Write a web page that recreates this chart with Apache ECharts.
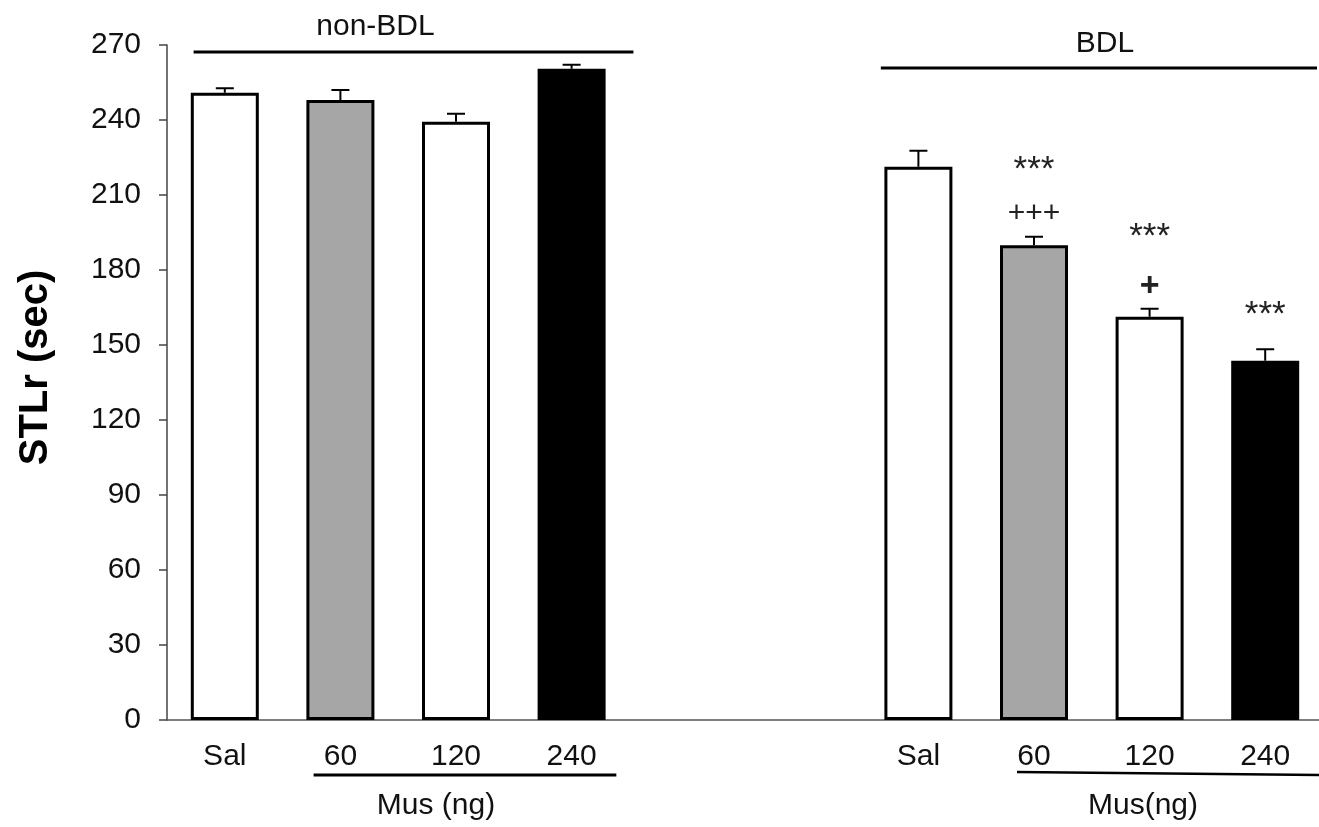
<!DOCTYPE html>
<html>
<head>
<meta charset="utf-8">
<script src="https://cdn.jsdelivr.net/npm/echarts@6/dist/echarts.min.js"></script>
<style>html,body{margin:0;padding:0;background:#fff;}#c{width:1319px;height:827px;}</style>
</head>
<body>
<div id="c"></div>
<script>
const categories = ['Sal', '60', '120', '240', '', '', 'Sal', '60', '120', '240'];
const means = [250.9, 248.0, 239.3, 260.5, null, null, 221.3, 189.9, 161.3, 143.7];
const errTops = [252.7, 252.0, 242.5, 262.1, null, null, 227.7, 193.3, 164.5, 148.3];
const barColors = ['#ffffff', '#a6a6a6', '#ffffff', '#000000', '#ffffff', '#ffffff', '#ffffff', '#a6a6a6', '#ffffff', '#000000'];
const yTicks = [0, 30, 60, 90, 120, 150, 180, 210, 240, 270];
const annotIdx = [7, 7, 8, 8, 9];
const annotY = [219.8, 202.4, 193.0, 173.4, 161.8];
const annotText = ['***', '+++', '***', '+', '***'];
const groupNames = ['non-BDL', 'BDL'];
const doseNames = ['Mus (ng)', 'Mus(ng)'];

const FONT = "'Liberation Sans', Arial, sans-serif";
const chart = echarts.init(document.getElementById('c'), null, {renderer: 'canvas'});

const barData = means.map((v, i) => v == null ? null : {
  value: v,
  itemStyle: {color: barColors[i], borderColor: '#000', borderWidth: 3}
});
const errData = means.map((v, i) => v == null ? null : [i, v, errTops[i]]).filter(d => d);
const annData = annotIdx.map((idx, k) => [idx, annotY[k], annotText[k]]);

chart.setOption({
  animation: false,
  backgroundColor: '#fff',
  grid: {left: 167, top: 45, width: 1156, bottom: 107, containLabel: false, outerBoundsMode: 'none'},
  xAxis: {
    type: 'category',
    data: categories,
    axisLine: {show: true, lineStyle: {color: '#555', width: 1.5}},
    axisTick: {show: false},
    axisLabel: {color: '#111', fontSize: 30, fontFamily: FONT, margin: 22, interval: 0},
    splitLine: {show: false}
  },
  yAxis: {
    type: 'value',
    min: yTicks[0],
    max: yTicks[yTicks.length - 1],
    interval: 30,
    name: 'STLr (sec)',
    nameLocation: 'middle',
    nameGap: 111,
    nameRotate: 90,
    nameTextStyle: {color: '#000', fontSize: 40, fontWeight: 'bold', fontFamily: FONT, padding: [0, 0, 0, 30]},
    axisLine: {show: true, lineStyle: {color: '#444', width: 1.5}},
    axisTick: {show: true, length: 8, inside: false, lineStyle: {color: '#444', width: 1.5}},
    axisLabel: {color: '#111', fontSize: 30, fontFamily: FONT, margin: 26},
    splitLine: {show: false}
  },
  series: [
    {
      type: 'custom',
      z: 1,
      data: errData,
      renderItem: function (params, api) {
        const x = api.value(0);
        const p0 = api.coord([x, api.value(1)]);
        const p1 = api.coord([x, api.value(2)]);
        const cap = 9;
        return {
          type: 'group',
          children: [
            {type: 'line', shape: {x1: p0[0], y1: p0[1], x2: p1[0], y2: p1[1]}, style: {stroke: '#000', lineWidth: 2}},
            {type: 'line', shape: {x1: p1[0] - cap, y1: p1[1], x2: p1[0] + cap, y2: p1[1]}, style: {stroke: '#000', lineWidth: 2}}
          ]
        };
      }
    },
    {
      type: 'bar',
      z: 2,
      data: barData,
      barWidth: 68
    },
    {
      type: 'custom',
      z: 3,
      data: annData,
      renderItem: function (params, api) {
        const p = api.coord([api.value(0), api.value(1)]);
        const t = annData[params.dataIndex][2];
        let font;
        if (t === '+') font = 'bold 34px ' + FONT;
        else if (t === '+++') font = '30px ' + FONT;
        else font = '35px ' + FONT;
        return {
          type: 'text',
          x: p[0], y: p[1],
          style: {text: t, fill: '#222', font: font, textAlign: 'center', textVerticalAlign: 'middle'}
        };
      }
    }
  ]
});

function px(idx) { return chart.convertToPixel({xAxisIndex: 0}, idx); }
function drawExtras() {
  const w = px(1) - px(0);
  const W = chart.getWidth();
  const g = [];
  const txt = (s, x, y) => ({type: 'text', style: {text: s, x: x, y: y, font: '30px ' + FONT, fill: '#111', textAlign: 'center', textVerticalAlign: 'middle'}});
  // top group lines
  const l1 = px(0) - 0.27 * w, r1 = px(3) + 0.535 * w;
  g.push({type: 'line', shape: {x1: l1, y1: 52, x2: r1, y2: 52}, style: {stroke: '#000', lineWidth: 3}});
  g.push(txt(groupNames[0], (l1 + r1) / 2 - 38, 27));
  const l2 = px(6) - 0.325 * w, r2 = W - 2;
  g.push({type: 'line', shape: {x1: l2, y1: 68, x2: r2, y2: 68}, style: {stroke: '#000', lineWidth: 3}});
  g.push(txt(groupNames[1], (l2 + r2) / 2 + 6, 44));
  // bottom dose lines
  const l3 = px(1) - 0.232 * w, r3 = px(3) + 0.387 * w;
  g.push({type: 'line', shape: {x1: l3, y1: 775, x2: r3, y2: 775}, style: {stroke: '#000', lineWidth: 3}});
  g.push(txt(doseNames[0], (l3 + r3) / 2 - 29, 806));
  const l4 = px(7) - 0.147 * w, r4 = W;
  g.push({type: 'line', shape: {x1: l4, y1: 772, x2: r4, y2: 775}, style: {stroke: '#000', lineWidth: 2.5}});
  g.push(txt(doseNames[1], (l4 + r4) / 2 - 25, 806));
  chart.setOption({graphic: g});
}
drawExtras();
</script>
</body>
</html>
